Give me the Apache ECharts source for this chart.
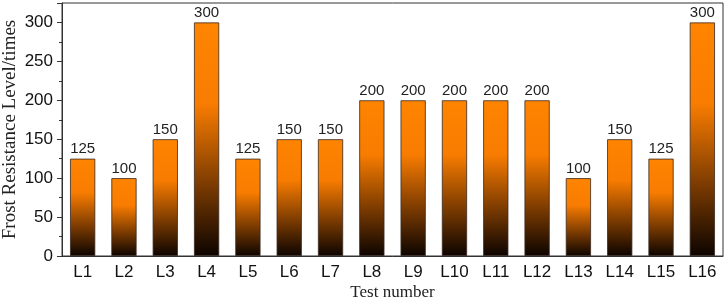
<!DOCTYPE html>
<html>
<head>
<meta charset="utf-8">
<script src="https://cdn.jsdelivr.net/npm/echarts@6/dist/echarts.min.js"></script>
<style>
html,body{margin:0;padding:0;background:#fff;}
#main{width:726px;height:300px;}
</style>
</head>
<body>
<div id="main"></div>
<script>
// 试验编号
var testNames = ['L1','L2','L3','L4','L5','L6','L7','L8','L9','L10','L11','L12','L13','L14','L15','L16'];
// 抗冻等级
var frostLevels = [125,100,150,300,125,150,150,200,200,200,200,200,100,150,125,300];

var myChart = echarts.init(document.getElementById('main'));
var option = {
    animation: false,
    grid: {
        show: true,
        borderColor: '#333',
        borderWidth: 1,
        outerBoundsMode: 'none',
        containLabel: false,
        left: 62,
        right: 3,
        top: 3,
        bottom: 44
    },
    xAxis: {
        type: 'category',
        data: testNames,
        name: 'Test number',
        nameLocation: 'middle',
        nameMoveOverlap: false,
        nameGap: 28,
        nameTextStyle: {
            fontFamily: 'Liberation Serif',
            fontSize: 17,
            color: '#222'
        },
        axisLine: {lineStyle: {color: '#333', width: 1}},
        axisTick: {
            alignWithLabel: true,
            length: 5,
            lineStyle: {color: '#333'}
        },
        axisLabel: {
            margin: 8,
            fontFamily: 'Liberation Sans',
            fontSize: 17,
            color: '#111'
        }
    },
    yAxis: {
        type: 'value',
        min: 0,
        max: 325,
        interval: 50,
        name: 'Frost Resistance Level/times',
        nameLocation: 'middle',
        nameMoveOverlap: false,
        nameGap: 42,
        nameTextStyle: {
            fontFamily: 'Liberation Serif',
            fontSize: 19,
            color: '#222'
        },
        axisLine: {show: true, lineStyle: {color: '#333', width: 1}},
        axisTick: {show: true, length: 5, lineStyle: {color: '#333'}},
        minorTick: {show: true, splitNumber: 2, length: 3, lineStyle: {color: '#333'}},
        splitLine: {show: false},
        axisLabel: {
            margin: 9,
            showMaxLabel: false,
            fontFamily: 'Liberation Sans',
            fontSize: 17,
            color: '#111'
        }
    },
    series: [{
        type: 'bar',
        data: frostLevels,
        barWidth: '61%',
        itemStyle: {
            borderColor: '#3a2a20',
            borderWidth: 0.8,
            color: new echarts.graphic.LinearGradient(0, 0, 0, 1, [
                {offset: 0, color: '#ff8400'},
                {offset: 0.35, color: '#f87c00'},
                {offset: 0.7, color: '#7a3a00'},
                {offset: 1, color: '#0c0400'}
            ])
        },
        label: {
            show: true,
            position: 'top',
            distance: 2,
            fontFamily: 'Liberation Sans',
            fontSize: 15,
            color: '#222'
        }
    }]
};
myChart.setOption(option);
</script>
</body>
</html>
